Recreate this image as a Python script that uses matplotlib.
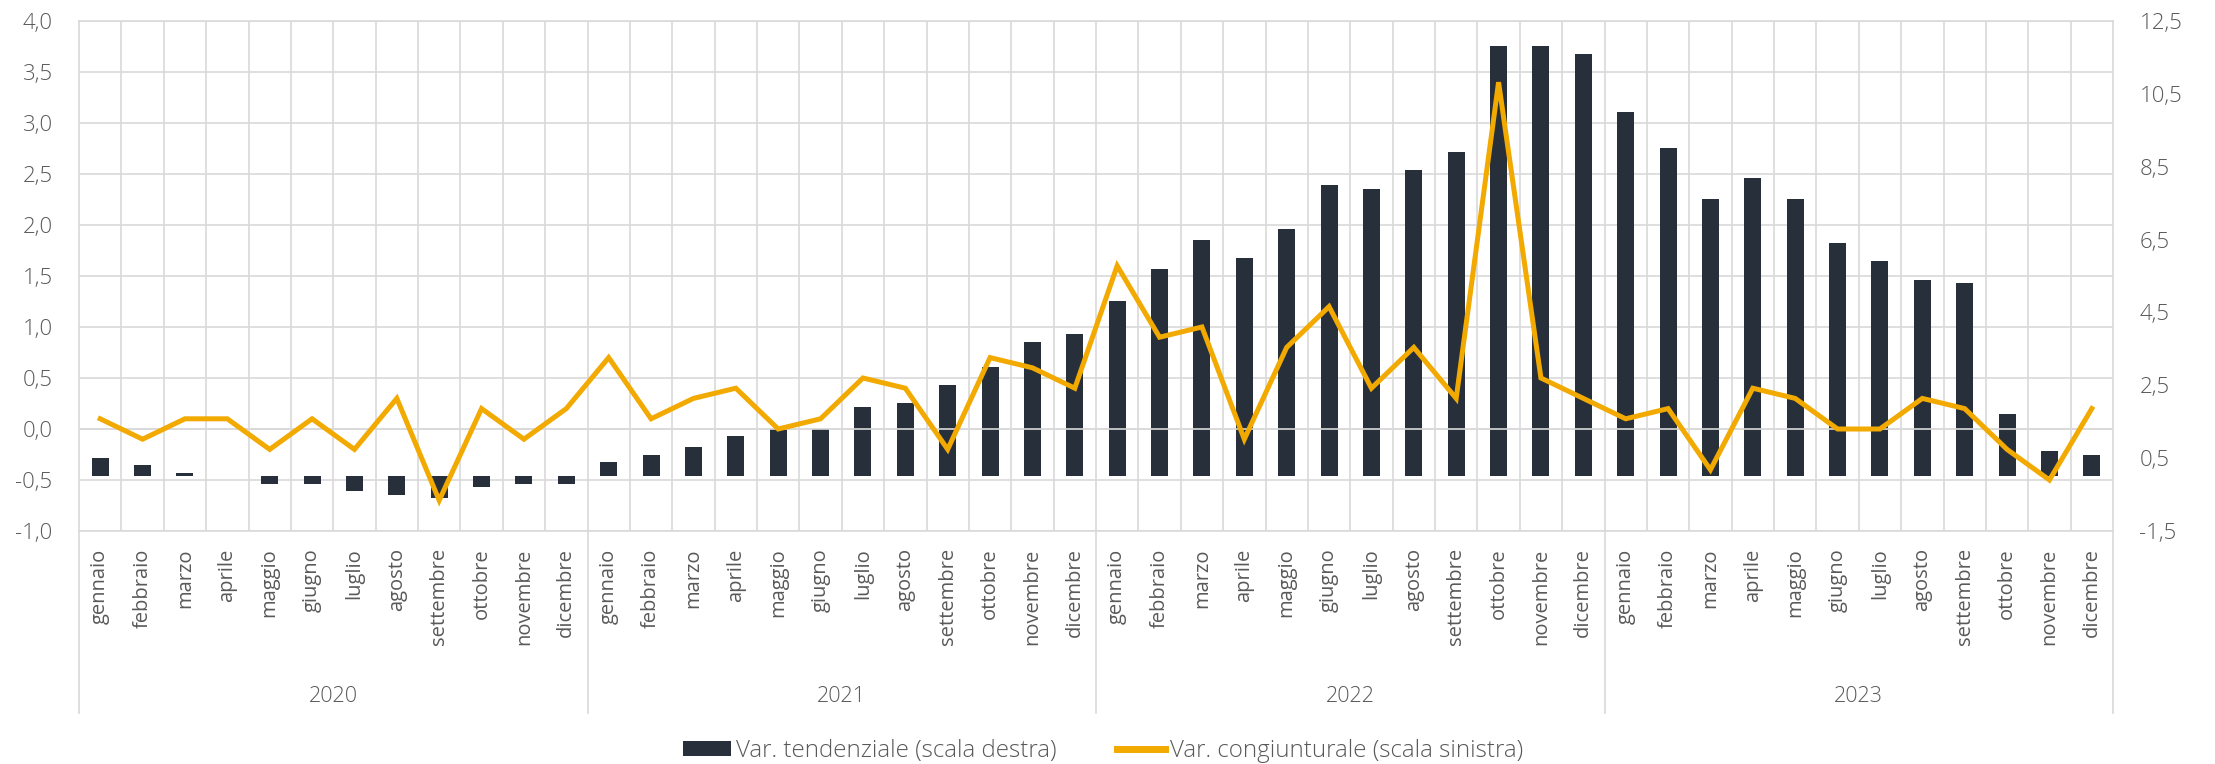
import matplotlib
matplotlib.use("Agg")
import matplotlib.pyplot as plt
import matplotlib.transforms as mtransforms
from matplotlib.patches import Patch
from matplotlib.lines import Line2D

plt.rcParams['font.family'] = ['Open Sans', 'DejaVu Sans']
plt.rcParams['font.weight'] = 'light'

years = ["2020", "2021", "2022", "2023"]
months = ["gennaio", "febbraio", "marzo", "aprile", "maggio", "giugno",
          "luglio", "agosto", "settembre", "ottobre", "novembre", "dicembre"]

# Var. tendenziale (scala destra) - bars
tendenziale = [0.5, 0.3, 0.1, 0.0, -0.2, -0.2, -0.4, -0.5, -0.6, -0.3, -0.2, -0.2,
               0.4, 0.6, 0.8, 1.1, 1.3, 1.3, 1.9, 2.0, 2.5, 3.0, 3.7, 3.9,
               4.8, 5.7, 6.5, 6.0, 6.8, 8.0, 7.9, 8.4, 8.9, 11.8, 11.8, 11.6,
               10.0, 9.0, 7.6, 8.2, 7.6, 6.4, 5.9, 5.4, 5.3, 1.7, 0.7, 0.6]

# Var. congiunturale (scala sinistra) - line
congiunturale = [0.1, -0.1, 0.1, 0.1, -0.2, 0.1, -0.2, 0.3, -0.7, 0.2, -0.1, 0.2,
                 0.7, 0.1, 0.3, 0.4, 0.0, 0.1, 0.5, 0.4, -0.2, 0.7, 0.6, 0.4,
                 1.6, 0.9, 1.0, -0.1, 0.8, 1.2, 0.4, 0.8, 0.3, 3.4, 0.5, 0.3,
                 0.1, 0.2, -0.4, 0.4, 0.3, 0.0, 0.0, 0.3, 0.2, -0.2, -0.5, 0.2]

left_ticks = [-1.0, -0.5, 0.0, 0.5, 1.0, 1.5, 2.0, 2.5, 3.0, 3.5, 4.0]
right_ticks = [-1.5, 0.5, 2.5, 4.5, 6.5, 8.5, 10.5, 12.5]

BAR_C = "#262F3A"
LINE_C = "#F2A900"
GRID_C = "#D9D9D9"
TXT_C = "#595959"

W, H = 2215, 764
fig = plt.figure(figsize=(W / 100, H / 100), dpi=100)
L, R, T, B = 79, 2113, 21, 531
pos = [L / W, 1 - B / H, (R - L) / W, (B - T) / H]

n = len(tendenziale)
x = list(range(n))
labels = months * len(years)

# background axis: grid, left scale, category labels
ax = fig.add_axes(pos)
ax.set_zorder(0)
ax.set_xlim(-0.5, n - 0.5)
ax.set_ylim(left_ticks[0], left_ticks[-1])
ax.set_yticks(left_ticks)
ax.set_yticklabels([f"{v:.1f}".replace(".", ",") for v in left_ticks])
ax.set_xticks(x)
ax.set_xticklabels(labels, rotation=90, va="top", ha="center", fontweight="normal")
ax.set_xticks([i + 0.5 for i in range(n - 1)], minor=True)
ax.tick_params(axis="x", which="both", length=0, pad=12.5, labelsize=14.5, colors=TXT_C)
ax.tick_params(axis="y", length=0, pad=19, labelsize=16, colors=TXT_C)
ax.grid(which="minor", axis="x", color=GRID_C, lw=1.2)
ax.grid(which="major", axis="y", color=GRID_C, lw=1.2)
ax.set_axisbelow(True)
for s in ax.spines.values():
    s.set_color(GRID_C)
    s.set_linewidth(1.2)

# year separators and labels
trans = mtransforms.blended_transform_factory(ax.transData, ax.transAxes)
ybot = -(713 - B) / (B - T)
for k in range(len(years) + 1):
    xs = k * 12 - 0.5
    ax.plot([xs, xs], [0, ybot], transform=trans, color=GRID_C, lw=1.2, clip_on=False)
ylab = -(696 - B) / (B - T)
for k, yr in enumerate(years):
    ax.text(k * 12 + 5.5, ylab, yr, transform=trans, ha="center", va="center",
            fontsize=15.5, color=TXT_C)

# bars on the right scale
ax2 = ax.twinx()
ax2.set_zorder(1)
ax2.patch.set_visible(False)
ax2.bar(x, tendenziale, width=0.4, color=BAR_C, zorder=2)
ax2.set_ylim(right_ticks[0], right_ticks[-1])
ax2.set_yticks(right_ticks)
ax2.set_yticklabels([f"{v:.1f}".replace(".", ",") for v in right_ticks])
ax2.tick_params(axis="y", length=0, pad=19, labelsize=16, colors=TXT_C)
for s in ax2.spines.values():
    s.set_visible(False)

# line on the left scale, on top
ax3 = fig.add_axes(pos, sharex=ax, sharey=ax)
ax3.set_zorder(2)
ax3.patch.set_visible(False)
ax3.axhline(0, color=GRID_C, lw=1.2, zorder=1)
ax3.plot(x, congiunturale, color=LINE_C, lw=3.6, zorder=3, solid_joinstyle="miter")
ax3.axis("off")

handles = [Patch(facecolor=BAR_C, edgecolor="none"),
           Line2D([0], [0], color=LINE_C, lw=5)]
fig.legend(handles, ["Var. tendenziale (scala destra)", "Var. congiunturale (scala sinistra)"],
           loc="center", bbox_to_anchor=(0.498, 1 - 751 / H), ncol=2, frameon=False,
           fontsize=17.4, labelcolor=TXT_C, handlelength=2.0, handleheight=0.6,
           handletextpad=0.2, columnspacing=2.5)

fig.savefig("out.png", dpi=100)
